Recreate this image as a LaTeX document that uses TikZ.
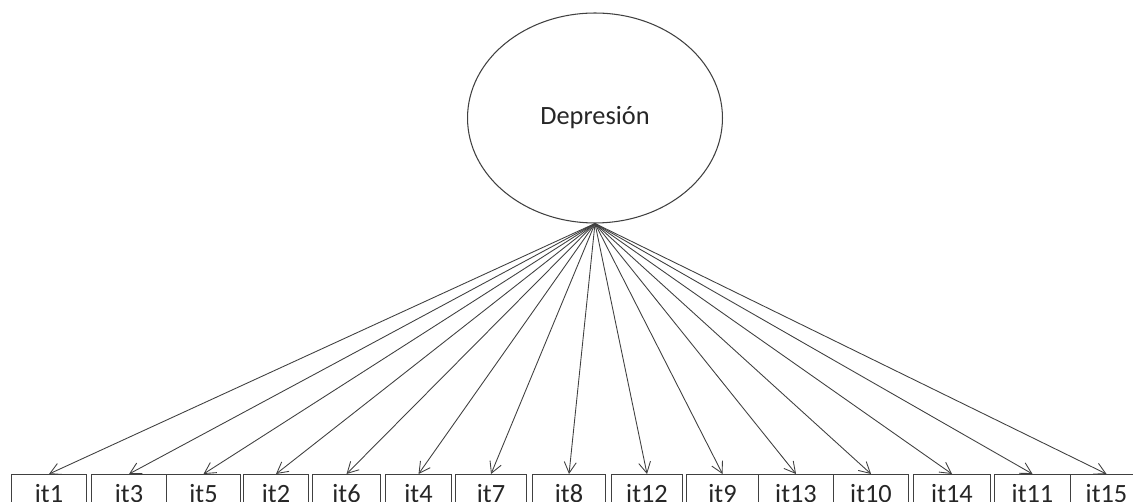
\documentclass[tikz,border=0pt]{standalone}
\usepackage{fontspec}
\setmainfont{Carlito}
\usetikzlibrary{arrows.meta,shapes.geometric}

\begin{document}
\begin{tikzpicture}[x=0.02cm,y=-0.02cm,font=\fontsize{15}{18}\selectfont,
  it/.style={draw=black!75,line width=0.6pt,minimum height=0.76cm,inner sep=0pt,anchor=north west},
  lat/.style={draw=black!75,line width=0.6pt,ellipse,minimum width=5.1cm,minimum height=4.2cm,inner sep=0pt},
  load/.style={draw=black!75,line width=0.5pt,-{Straight Barb[length=2.2mm,width=2.4mm]}}]
\useasboundingbox (0,0) rectangle (1133,502);
\clip (0,0) rectangle (1133,502);
% ---- latent factor ----
\node[lat,text=black!85] (dep) at (595,118) {Depresión};
% ---- observed items ----
\foreach \n/\l/\r in {it1/11/86,it3/91/166,it5/166/240,it2/243/308,it6/312/380,
  it4/385/451,it7/455/526,it8/532/605,it12/611/682,it9/686/758,it13/758/833,
  it10/833/908,it14/913/990,it11/994/1070,it15/1070/1142}{
  \pgfmathsetmacro\w{(\r-\l)*0.02}
  \node[it,minimum width=\w cm,text=black!85] (\n) at (\l,474) {\n};
  \draw[load] (dep.south) -- (\n.north);
}
\end{tikzpicture}
\end{document}
